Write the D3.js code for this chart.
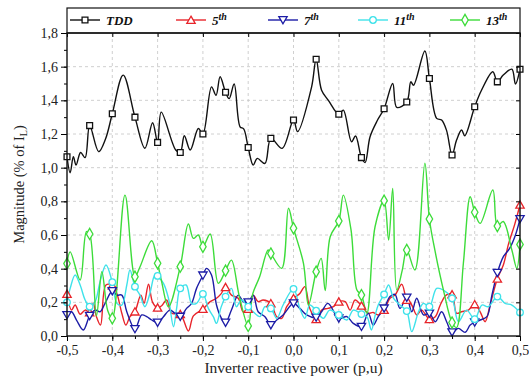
<!DOCTYPE html>
<html>
<head>
<meta charset="utf-8">
<script src="https://cdn.jsdelivr.net/npm/d3@7"></script>
<style>
  body { margin: 0; background: #fff; }
  svg { display: block; font-family: "Liberation Serif", "Times New Roman", serif; }
</style>
</head>
<body>
<div id="chart"></div>
<script>
// ---- data: [reactive power (p.u.), magnitude (% of IL)] ----
const tdd = [[-0.5,1.065],[-0.493,0.97],[-0.486,1.065],[-0.48,1.015],[-0.47,1.09],[-0.46,1.06],[-0.45,1.25],
  [-0.43,1.095],[-0.415,1.17],[-0.4,1.32],[-0.376,1.55],[-0.35,1.30],[-0.328,1.115],[-0.311,1.267],[-0.3,1.15],
  [-0.292,1.33],[-0.26,1.105],[-0.25,1.09],[-0.241,1.19],[-0.228,1.105],[-0.21,1.233],[-0.2,1.2],[-0.181,1.48],
  [-0.171,1.43],[-0.162,1.54],[-0.15,1.448],[-0.142,1.41],[-0.131,1.497],[-0.118,1.243],[-0.11,1.23],[-0.1,1.12],
  [-0.089,1.015],[-0.08,1.055],[-0.063,1.025],[-0.05,1.174],[-0.025,1.115],[0,1.283],[0.009,1.214],[0.04,1.48],
  [0.05,1.644],[0.062,1.46],[0.077,1.40],[0.1,1.317],[0.11,1.342],[0.128,1.154],[0.137,1.188],[0.15,1.06],
  [0.158,1.03],[0.169,1.184],[0.185,1.28],[0.2,1.35],[0.219,1.5],[0.228,1.358],[0.25,1.39],[0.259,1.51],[0.265,1.49],
  [0.29,1.693],[0.3,1.53],[0.316,1.293],[0.327,1.283],[0.338,1.22],[0.35,1.075],[0.36,1.164],[0.371,1.224],
  [0.378,1.19],[0.4,1.362],[0.415,1.46],[0.44,1.57],[0.45,1.51],[0.463,1.55],[0.482,1.585],[0.49,1.497],[0.5,1.585]];

const h5 = [[-0.5,0.25],[-0.49,0.154],[-0.482,0.184],[-0.471,0.129],[-0.46,0.154],[-0.45,0.14],[-0.442,0.194],
  [-0.435,0.115],[-0.426,0.065],[-0.414,0.303],[-0.4,0.3],[-0.39,0.253],[-0.379,0.135],[-0.37,0.065],[-0.361,0.115],
  [-0.35,0.145],[-0.337,0.243],[-0.33,0.194],[-0.32,0.307],[-0.311,0.2],[-0.3,0.168],[-0.291,0.18],[-0.28,0.214],
  [-0.269,0.135],[-0.25,0.13],[-0.232,0.03],[-0.221,0.12],[-0.2,0.16],[-0.184,0.204],[-0.17,0.224],[-0.16,0.25],
  [-0.15,0.29],[-0.137,0.243],[-0.122,0.224],[-0.111,0.144],[-0.1,0.16],[-0.089,0.243],[-0.078,0.204],
  [-0.067,0.214],[-0.05,0.194],[-0.037,0.115],[-0.026,0.105],[-0.015,0.174],[0,0.224],[0.014,0.253],[0.025,0.293],
  [0.036,0.164],[0.05,0.1],[0.062,0.154],[0.076,0.164],[0.088,0.174],[0.1,0.204],[0.114,0.204],[0.125,0.154],
  [0.136,0.214],[0.15,0.18],[0.165,0.135],[0.176,0.14],[0.187,0.125],[0.2,0.155],[0.213,0.224],[0.224,0.243],
  [0.239,0.307],[0.25,0.214],[0.261,0.184],[0.272,0.125],[0.283,0.154],[0.3,0.1],[0.313,0.115],[0.324,0.184],
  [0.337,0.243],[0.35,0.247],[0.36,0.135],[0.371,0.144],[0.386,0.154],[0.4,0.188],[0.412,0.144],[0.423,0.085],
  [0.434,0.184],[0.45,0.34],[0.463,0.42],[0.475,0.55],[0.488,0.66],[0.5,0.78]];

const h7 = [[-0.5,0.125],[-0.49,0.144],[-0.479,0.095],[-0.464,0.036],[-0.45,0.12],[-0.438,0.154],[-0.427,0.144],
  [-0.416,0.194],[-0.4,0.267],[-0.39,0.243],[-0.379,0.243],[-0.368,0.144],[-0.35,0.042],[-0.335,0.125],
  [-0.324,0.115],[-0.313,0.095],[-0.3,0.08],[-0.287,0.115],[-0.273,0.154],[-0.262,0.135],[-0.25,0.115],
  [-0.236,0.164],[-0.225,0.194],[-0.214,0.283],[-0.2,0.36],[-0.192,0.402],[-0.181,0.362],[-0.17,0.184],
  [-0.16,0.11],[-0.15,0.08],[-0.137,0.154],[-0.122,0.243],[-0.111,0.204],[-0.1,0.2],[-0.089,0.243],[-0.078,0.144],
  [-0.063,0.115],[-0.05,0.065],[-0.037,0.095],[-0.023,0.125],[0,0.194],[0.014,0.164],[0.029,0.125],[0.05,0.11],
  [0.062,0.144],[0.076,0.194],[0.1,0.105],[0.118,0.115],[0.132,0.075],[0.15,0.055],[0.165,0.135],[0.176,0.065],
  [0.187,0.115],[0.2,0.164],[0.213,0.234],[0.224,0.247],[0.235,0.164],[0.25,0.228],[0.261,0.144],[0.272,0.224],
  [0.287,0.125],[0.3,0.134],[0.313,0.085],[0.327,0.144],[0.338,0.085],[0.35,0.022],[0.364,0.045],[0.379,0.022],
  [0.39,0.065],[0.4,0.081],[0.412,0.095],[0.427,0.115],[0.438,0.243],[0.45,0.375],[0.463,0.47],[0.477,0.52],
  [0.49,0.6],[0.5,0.695]];

const h11 = [[-0.5,0.2],[-0.493,0.283],[-0.482,0.362],[-0.471,0.303],[-0.46,0.214],[-0.45,0.174],[-0.438,0.204],
  [-0.427,0.323],[-0.414,0.422],[-0.4,0.32],[-0.39,0.194],[-0.379,0.184],[-0.368,0.303],[-0.361,0.392],
  [-0.35,0.293],[-0.339,0.243],[-0.328,0.174],[-0.317,0.253],[-0.306,0.362],[-0.3,0.357],[-0.287,0.313],
  [-0.276,0.224],[-0.265,0.055],[-0.258,0.164],[-0.25,0.283],[-0.237,0.303],[-0.225,0.194],[-0.214,0.194],
  [-0.2,0.25],[-0.188,0.164],[-0.177,0.115],[-0.17,0.075],[-0.16,0.17],[-0.15,0.234],[-0.137,0.283],
  [-0.126,0.174],[-0.115,0.214],[-0.1,0.174],[-0.089,0.144],[-0.074,0.115],[-0.063,0.174],[-0.05,0.164],
  [-0.037,0.105],[-0.023,0.184],[0,0.28],[0.014,0.164],[0.025,0.105],[0.036,0.184],[0.05,0.15],[0.066,0.105],
  [0.08,0.154],[0.1,0.125],[0.118,0.095],[0.132,0.154],[0.15,0.13],[0.162,0.115],[0.172,0.036],[0.18,0.12],
  [0.187,0.184],[0.2,0.247],[0.21,0.303],[0.221,0.224],[0.235,0.184],[0.25,0.148],[0.261,0.026],[0.276,0.144],
  [0.287,0.194],[0.3,0.174],[0.316,0.283],[0.331,0.273],[0.35,0.224],[0.364,0.085],[0.382,0.154],[0.4,0.1],
  [0.416,0.184],[0.43,0.174],[0.45,0.234],[0.467,0.194],[0.482,0.184],[0.5,0.14]];

const h13 = [[-0.5,0.43],[-0.493,0.5],[-0.471,0.333],[-0.457,0.62],[-0.45,0.606],[-0.435,0.12],[-0.423,0.382],
  [-0.41,0.15],[-0.4,0.105],[-0.372,0.837],[-0.35,0.352],[-0.339,0.41],[-0.313,0.566],[-0.3,0.432],[-0.291,0.322],
  [-0.276,0.174],[-0.25,0.412],[-0.232,0.665],[-0.221,0.58],[-0.21,0.6],[-0.2,0.53],[-0.184,0.606],[-0.166,0.313],
  [-0.15,0.388],[-0.137,0.451],[-0.12,0.24],[-0.1,0.06],[-0.09,0.25],[-0.075,0.35],[-0.056,0.511],[-0.05,0.49],
  [-0.026,0.402],[-0.011,0.759],[0,0.64],[0.022,0.432],[0.033,0.184],[0.05,0.382],[0.061,0.461],[0.07,0.27],
  [0.081,0.59],[0.1,0.683],[0.11,0.837],[0.127,0.63],[0.14,0.273],[0.15,0.243],[0.162,0.135],[0.18,0.649],
  [0.2,0.804],[0.21,0.57],[0.219,0.877],[0.228,0.273],[0.24,0.39],[0.25,0.511],[0.268,0.392],[0.29,1.026],
  [0.3,0.695],[0.312,0.511],[0.331,0.273],[0.35,0.08],[0.36,0.05],[0.375,0.432],[0.39,0.827],[0.4,0.735],
  [0.412,0.669],[0.44,0.867],[0.45,0.653],[0.463,0.68],[0.482,0.511],[0.493,0.402],[0.5,0.544]];

const seriesNames = ["TDD", "5", "7", "11", "13"];
const xTicks = [-0.5, -0.4, -0.3, -0.2, -0.1, 0, 0.1, 0.2, 0.3, 0.4, 0.5];
const yTicks = [0, 0.2, 0.4, 0.6, 0.8, 1.0, 1.2, 1.4, 1.6, 1.8];

// ---- layout ----
const W = 529, H = 380;
const m = { left: 67, right: 9, top: 33, bottom: 44 };
const legendTop = 8;
const serifFont = "'Liberation Serif', 'Times New Roman', serif";

const series = [
  { name: seriesNames[0], data: tdd, color: "#111111", sym: d3.symbolSquare, size: 34, rot: 0, sup: false },
  { name: seriesNames[1], data: h5,  color: "#e8242a", sym: d3.symbolTriangle, size: 30, rot: 0, sup: true },
  { name: seriesNames[2], data: h7,  color: "#1c1ca6", sym: d3.symbolTriangle, size: 30, rot: 180, sup: true },
  { name: seriesNames[3], data: h11, color: "#3fe2ea", sym: d3.symbolCircle, size: 34, rot: 0, sup: true },
  { name: seriesNames[4], data: h13, color: "#3ddc3a", sym: d3.symbolDiamond, size: 36, rot: 0, sup: true }
];

const svg = d3.select("#chart").append("svg")
  .attr("width", W).attr("height", H);

const x = d3.scaleLinear().domain([-0.5, 0.5]).range([m.left, W - m.right]);
const y = d3.scaleLinear().domain([0, 1.8]).range([H - m.bottom, m.top]);
const fmt = v => d3.format(".1f")(v).replace("−", "-").replace(".", ",");

// grid
const grid = svg.append("g").attr("stroke", "#c4c4c4").attr("stroke-dasharray", "3,3").attr("stroke-width", 0.8);
grid.selectAll(".gx").data(xTicks.slice(1, -1)).join("line")
  .attr("x1", d => x(d)).attr("x2", d => x(d)).attr("y1", y(0)).attr("y2", y(1.8));
grid.selectAll(".gy").data(yTicks.slice(1, -1)).join("line")
  .attr("x1", x(-0.5)).attr("x2", x(0.5)).attr("y1", d => y(d)).attr("y2", d => y(d));

// clip
svg.append("clipPath").attr("id", "plotclip").append("rect")
  .attr("x", x(-0.5)).attr("y", y(1.8)).attr("width", x(0.5) - x(-0.5)).attr("height", y(0) - y(1.8));

const line = d3.line().x(d => x(d[0])).y(d => y(d[1])).curve(d3.curveCatmullRom.alpha(0.5));
const isMarker = d => Math.abs(d[0] * 20 - Math.round(d[0] * 20)) < 1e-6;

const plot = svg.append("g").attr("clip-path", "url(#plotclip)");
series.forEach(s => {
  plot.append("path").datum(s.data)
    .attr("fill", "none").attr("stroke", s.color).attr("stroke-width", 1.4)
    .attr("d", line);
});
series.forEach(s => {
  svg.append("g").selectAll("path").data(s.data.filter(isMarker)).join("path")
    .attr("d", d3.symbol().type(s.sym).size(s.size))
    .attr("transform", d => `translate(${x(d[0])},${y(d[1]) + (s.sym === d3.symbolTriangle ? (s.rot ? -1 : 1) : 0)}) rotate(${s.rot})`)
    .attr("fill", "#fff").attr("stroke", s.color).attr("stroke-width", 1.3);
});

// axes
const axisFont = g => g.selectAll("text")
  .attr("font-family", serifFont)
  .attr("font-size", 14).attr("fill", "#222");

const xMinor = d3.range(-0.5, 0.5001, 0.05);
const yMinor = d3.range(0, 1.8001, 0.1);

svg.append("g").attr("transform", `translate(0,${y(0)})`)
  .call(d3.axisBottom(x).tickValues(xMinor).tickSize(3).tickFormat(""))
  .call(g => g.select(".domain").remove());
svg.append("g").attr("transform", `translate(0,${y(0)})`)
  .call(d3.axisBottom(x).tickValues(xTicks).tickSize(5).tickPadding(4).tickFormat(fmt))
  .call(g => g.select(".domain").remove())
  .call(axisFont);

svg.append("g").attr("transform", `translate(${x(-0.5)},0)`)
  .call(d3.axisLeft(y).tickValues(yMinor).tickSize(3).tickFormat(""))
  .call(g => g.select(".domain").remove());
svg.append("g").attr("transform", `translate(${x(-0.5)},0)`)
  .call(d3.axisLeft(y).tickValues(yTicks).tickSize(6).tickPadding(3).tickFormat(fmt))
  .call(g => g.select(".domain").remove())
  .call(axisFont);

// top / right inner ticks
svg.append("g").attr("transform", `translate(0,${y(1.8)})`)
  .call(d3.axisBottom(x).tickValues(xTicks).tickSize(4).tickFormat(""))
  .call(g => g.select(".domain").remove());
svg.append("g").attr("transform", `translate(${x(0.5)},0)`)
  .call(d3.axisLeft(y).tickValues(yTicks).tickSize(4).tickFormat(""))
  .call(g => g.select(".domain").remove());

// frame
svg.append("rect")
  .attr("x", x(-0.5)).attr("y", y(1.8)).attr("width", x(0.5) - x(-0.5)).attr("height", y(0) - y(1.8))
  .attr("fill", "none").attr("stroke", "#111").attr("stroke-width", 1.4);

// legend
svg.append("rect")
  .attr("x", x(-0.5)).attr("y", legendTop).attr("width", x(0.5) - x(-0.5)).attr("height", y(1.8) - legendTop)
  .attr("fill", "none").attr("stroke", "#111").attr("stroke-width", 1.2);

const legendX = [70, 176, 268, 358, 450];
const ly = 20;
series.forEach((s, i) => {
  const g = svg.append("g").attr("transform", `translate(${legendX[i]},${ly})`);
  g.append("line").attr("x1", 0).attr("x2", 30).attr("stroke", s.color).attr("stroke-width", 1.4);
  g.append("path")
    .attr("d", d3.symbol().type(s.sym).size(s.size))
    .attr("transform", `translate(15,${s.sym === d3.symbolTriangle ? (s.rot ? -1 : 1) : 0}) rotate(${s.rot})`)
    .attr("fill", "#fff").attr("stroke", s.color).attr("stroke-width", 1.3);
  const t = g.append("text").attr("x", 36).attr("y", 4.5)
    .attr("font-size", 13).attr("font-weight", "bold").attr("font-style", "italic").attr("fill", "#111")
    .text(s.name);
  if (s.sup) {
    t.append("tspan").attr("dy", -5).attr("font-size", 10).text("th");
  }
});

// axis titles
svg.append("text")
  .attr("x", (x(-0.5) + x(0.5)) / 2).attr("y", 373)
  .attr("text-anchor", "middle").attr("font-size", 15.5).attr("fill", "#222")
  .text("Inverter reactive power (p,u)");

const yt = svg.append("text")
  .attr("transform", `translate(24,${(y(0) + y(1.8)) / 2}) rotate(-90)`)
  .attr("text-anchor", "middle").attr("font-size", 14.5).attr("fill", "#222");
yt.append("tspan").text("Magnitude (% of I");
yt.append("tspan").attr("font-size", 10).attr("dy", 3).text("L");
yt.append("tspan").attr("dy", -3).text(")");
</script>
</body>
</html>
